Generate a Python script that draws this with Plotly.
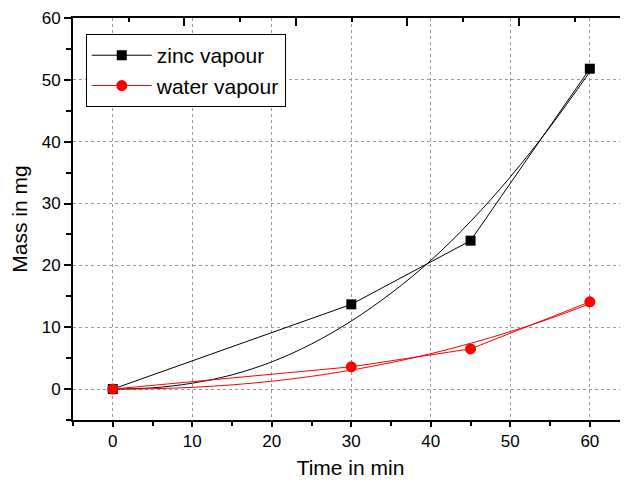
import plotly.graph_objects as go

# measured points
time_min = [0, 30, 45, 60]
zinc_mass = [0, 13.7, 24.0, 51.8]
water_mass = [0, 3.6, 6.5, 14.1]

# fitted curves
fit_time = [0, 5, 10, 15, 20, 25, 30, 35, 40, 45, 50, 55, 60]
zinc_fit = [0, 0.2, 0.95, 2.3, 4.4, 7.3, 11.0, 15.5, 20.8, 27.1, 34.3, 42.4, 51.3]
water_fit = [0, 0.06, 0.28, 0.68, 1.27, 2.06, 3.07, 4.28, 5.72, 7.39, 9.29, 11.4, 13.8]

x_ticks = [0, 10, 20, 30, 40, 50, 60]
y_ticks = [0, 10, 20, 30, 40, 50, 60]

FONT = "Liberation Sans, Arial, sans-serif"

fig = go.Figure()

# fit lines first, no legend
fig.add_trace(go.Scatter(x=fit_time, y=zinc_fit, mode="lines", line=dict(color="black", width=1, shape="spline"),
                         showlegend=False, hoverinfo="skip"))
fig.add_trace(go.Scatter(x=fit_time, y=water_fit, mode="lines", line=dict(color="red", width=1, shape="spline"),
                         showlegend=False, hoverinfo="skip"))

fig.add_trace(go.Scatter(x=time_min, y=zinc_mass, mode="lines+markers", name="zinc vapour",
                         line=dict(color="black", width=1),
                         marker=dict(symbol="square", size=10, color="black")))
fig.add_trace(go.Scatter(x=time_min, y=water_mass, mode="lines+markers", name="water vapour",
                         line=dict(color="red", width=1),
                         marker=dict(symbol="circle", size=11, color="red")))

# empty trace so the top / right frame axes get drawn
fig.add_trace(go.Scatter(x=[], y=[], xaxis="x2", yaxis="y2", showlegend=False, hoverinfo="skip"))

grid = dict(showgrid=True, gridcolor="#999999", gridwidth=1, griddash="dot", zeroline=False, automargin=False)

# page body has an 8px margin, so the figure is 8px smaller and the margins shifted
fig.update_layout(
    width=620, height=477,
    margin=dict(l=65, r=0, t=10, b=65),
    paper_bgcolor="white", plot_bgcolor="white",
    font=dict(family=FONT, color="black"),
    xaxis=dict(range=[-5, 64.8], tickvals=x_ticks, ticks="outside", ticklen=5, tickwidth=1.5,
               tickcolor="black", minor=dict(dtick=5, tick0=0, ticks="outside", ticklen=4, tickcolor="black",
                                             showgrid=False),
               showline=True, linewidth=2, linecolor="black",
               tickfont=dict(size=17), title=dict(text="Time in min", font=dict(size=21), standoff=10),
               **grid),
    yaxis=dict(range=[-5, 60], tickvals=y_ticks, ticks="outside", ticklen=7, tickwidth=1.5,
               tickcolor="black", minor=dict(dtick=5, tick0=0, ticks="outside", ticklen=5, tickcolor="black",
                                             showgrid=False),
               showline=True, linewidth=2, linecolor="black",
               tickfont=dict(size=17), title=dict(text="Mass in mg", font=dict(size=21), standoff=8),
               **grid),
    xaxis2=dict(overlaying="x", side="top", anchor="y", range=[0, 4.98], dtick=1, tick0=0,
                ticks="inside", ticklen=8, tickwidth=1.5, tickcolor="black",
                minor=dict(dtick=0.5, tick0=0, ticks="inside", ticklen=4, tickcolor="black"),
                showticklabels=False, showline=True, linewidth=1.5, linecolor="black",
                showgrid=False, zeroline=False, automargin=False),
    yaxis2=dict(overlaying="y", side="right", anchor="x", range=[0, 5], dtick=1, tick0=0,
                ticks="inside", ticklen=7, tickwidth=1.5, tickcolor="black",
                minor=dict(dtick=0.5, tick0=0, ticks="inside", ticklen=3, tickcolor="black"),
                showticklabels=False, showline=False, showgrid=False, zeroline=False, automargin=False),
    legend=dict(x=0.023, y=0.96, xanchor="left", yanchor="top", bgcolor="white",
                bordercolor="black", borderwidth=1, font=dict(size=21, family=FONT),
                itemwidth=60, tracegroupgap=0),
)

fig.write_html("out.html")
